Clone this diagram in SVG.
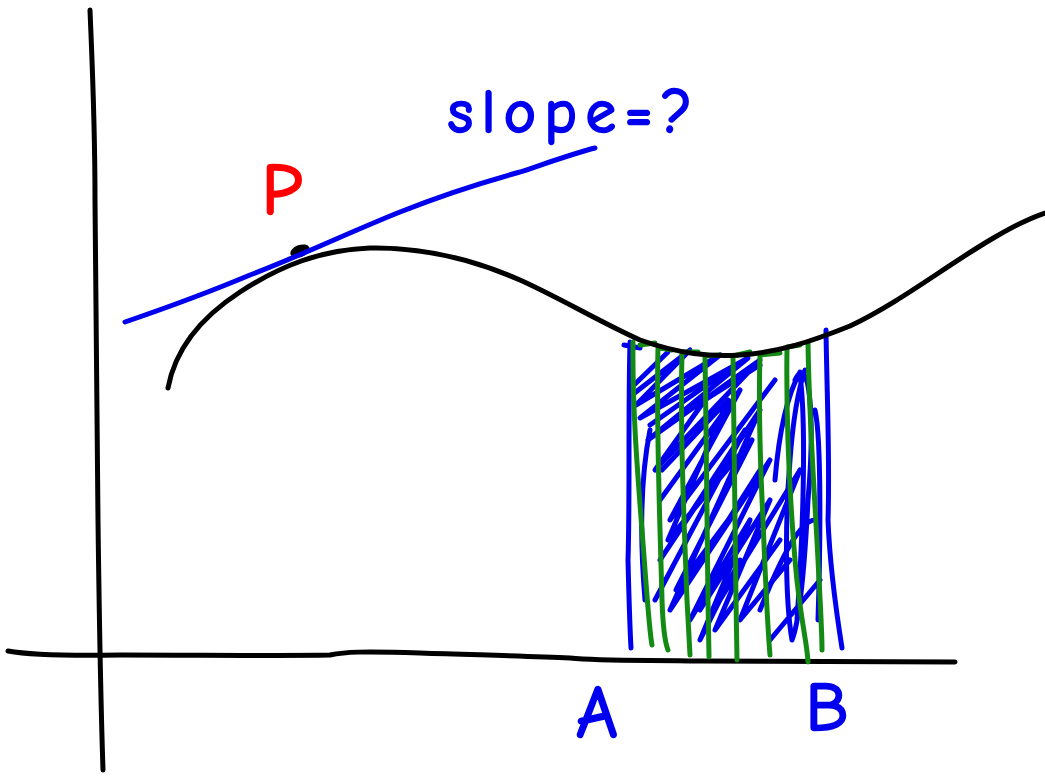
<svg xmlns="http://www.w3.org/2000/svg" width="1045" height="776" viewBox="0 0 1045 776">
<style>
.ink{fill:none;stroke-linecap:round;stroke-linejoin:round}
.k{stroke:#000;stroke-width:5}
.b{stroke:#0000ee;stroke-width:5}
.g{stroke:#138a13;stroke-width:5}
.t{font-family:"Comic Neue","DejaVu Sans","Liberation Sans",sans-serif;stroke-width:2.5;stroke-linejoin:round}
</style>
<rect width="1045" height="776" fill="#fff"/>
<g id="axes">
<path class="ink k" d="M90,10 C92,60 95,120 95,200 C96,320 97,430 98,520 C99,600 100,680 103,770"/>
<path class="ink k" d="M8,651 C30,655 60,656 120,655 C200,655 280,656 330,655 C345,652 360,651 420,653 C480,655 530,656 570,658 C600,661 640,660 700,661 C800,662 900,662 955,662"/>
</g>
<g id="shading">
<path class="ink b" d="M630,342 C628,420 630,500 628,560 C629,600 630,630 631,648"/>
<path class="ink b" d="M826,330 C827,400 830,460 828,520 C830,570 836,610 842,648"/>
<path class="ink b" d="M624,345 L640,348 M632,395 L690,350 L636,405 L720,355 L640,418 L748,358 L648,440 L760,360 L655,470 L705,400 L760,365 M634,385 L668,352 M650,425 L735,365"/>
<path class="ink b" d="M645,600 C640,540 640,480 650,430 M655,600 L745,430 L660,560 L760,410 L670,610 L770,460 L690,620 L750,520 L700,640 L740,560 M660,500 L740,390 L670,520 L775,380 M690,580 L760,470 M720,600 L800,470 L740,620 L790,560 M662,470 L728,400 L668,540 L752,440 L676,590 L758,480 M700,610 L770,500 L715,630 L780,540"/>
<path class="ink b" d="M795,380 C810,350 815,420 808,500 C805,560 800,620 792,640 C785,600 785,520 790,460 C793,420 798,390 805,370 M800,375 C806,420 804,520 797,620 M760,610 C780,560 800,520 815,520 M770,640 L820,580 M815,410 C822,440 820,560 818,620 M775,480 C780,420 790,390 800,372"/>
</g>
<g id="strips">
<path class="ink g" d="M640,345 L655,343 M633,342 C632,420 640,500 645,570 C648,610 650,635 652,645"/>
<path class="ink g" d="M660,348 L672,350 M658,348 C656,430 660,520 662,600 C663,630 666,645 668,650"/>
<path class="ink g" d="M682,352 L698,352 M682,352 C680,430 684,520 687,600 L690,655"/>
<path class="ink g" d="M705,356 L720,355 M705,356 C706,440 708,540 708,600 L709,657"/>
<path class="ink g" d="M733,356 L750,352 M733,356 C734,440 735,520 736,600 L737,660"/>
<path class="ink g" d="M760,355 L780,353 M760,355 C758,420 761,480 763,520 C765,570 767,620 770,655"/>
<path class="ink g" d="M787,347 L800,345 M787,347 C786,420 790,500 795,560 C800,620 807,640 808,662"/>
<path class="ink g" d="M808,342 C809,420 815,500 818,560 C820,600 822,630 822,650"/>
</g>
<g id="curve">
<path class="ink k" d="M168,388 C175,350 200,318 240,292 C280,266 320,250 370,248 C420,247 470,258 520,280 C560,298 600,322 640,340 C680,354 710,357 740,355 C780,352 810,342 850,326 C900,302 940,270 990,240 C1010,228 1030,218 1045,213"/>
<ellipse cx="300" cy="251" rx="10" ry="6" fill="#000" transform="rotate(-20 300 251)"/>
</g>
<g id="tangent">
<path class="ink b" d="M125,322 C160,310 200,296 250,275 C300,256 350,232 400,212 C440,196 480,183 520,172 C550,162 575,153 595,148"/>
</g>
<g id="labels">
<text class="t" x="448" y="132" font-size="60" fill="#0000ee" stroke="#0000ee" letter-spacing="9">slope=?</text>
<text class="t" x="262" y="214" font-size="72" fill="#ff0000" stroke="#ff0000">P</text>
<text class="t" x="576" y="737" font-size="72" fill="#0000ee" stroke="#0000ee">A</text>
<text class="t" x="806" y="730" font-size="68" fill="#0000ee" stroke="#0000ee">B</text>
</g>
</svg>
